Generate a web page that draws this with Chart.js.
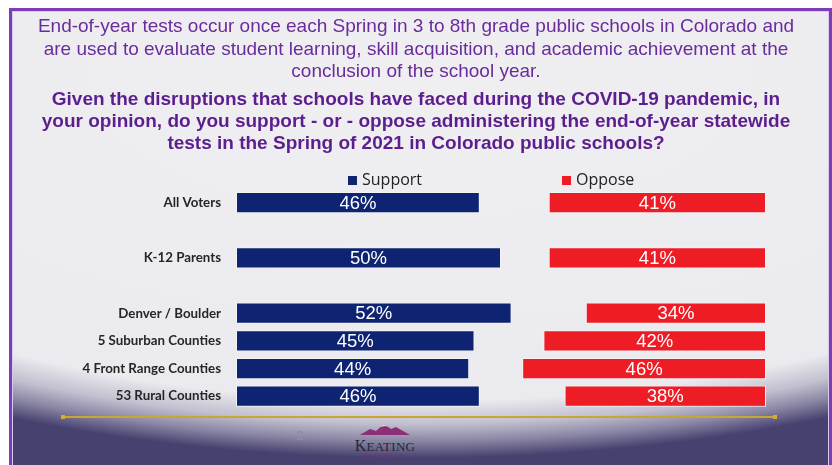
<!DOCTYPE html>
<html>
<head>
<meta charset="utf-8">
<script src="https://cdn.jsdelivr.net/npm/chart.js@4.4.1/dist/chart.umd.min.js"></script>
<style>
  html, body { margin: 0; padding: 0; background: #ffffff; }
  body { width: 832px; height: 465px; position: relative; overflow: hidden; }
  #slide {
    position: absolute; left: 9px; top: 8px; width: 817px; height: 470px;
    border: 3px solid #7d3cb8; border-bottom: none;
    box-shadow: inset 0 0 0 1px #d9c9ea;
    background:
      radial-gradient(ellipse 910px 380px at 407px 67px,
        #efeff2 0%, #ebebef 85%, #c2bfcf 91%, #8a86a4 95.5%, #46416f 100%);
  }
  #chart { position: absolute; left: 0; top: 0; }
  .gold { position: absolute; left: 62px; top: 416px; width: 714px; height: 2px; background: #c8a630; }
  .gold::before, .gold::after { content: ''; position: absolute; top: -1px; width: 4px; height: 4px; background: #d4ae2a; }
  .gold::before { left: -1px; }
  .gold::after { right: -1px; }
  .pageno { position: absolute; left: 296px; top: 428px; font: 13px 'Liberation Sans', sans-serif; color: #8f8ca3; }
  .logo { position: absolute; left: 352px; top: 421px; width: 66px; text-align: center; }
  .logo .name { font: 13px 'Liberation Serif', serif; color: #2a2630; letter-spacing: 0.3px; line-height: 13px; }
  .logo .name span { font-size: 16px; }
  .logo .sub { font: 4px 'Liberation Sans', sans-serif; color: #7b2a6e; letter-spacing: 2.5px; line-height: 5px; }
</style>
</head>
<body>
<div id="slide"></div>
<div class="gold"></div>
<div class="pageno">2</div>
<div class="logo">
  <svg width="50" height="11" viewBox="0 0 50 11"><polygon points="0,11 10,5 16,7 24,0 31,5 36,3 50,11" fill="#8c2f78"/><polygon points="20,3 24,0 28,3 25,2" fill="#e8d8ee"/></svg>
  <div class="name"><span>K</span>EATING</div>
  <div class="sub">RESEARCH</div>
</div>
<canvas id="chart" width="832" height="465"></canvas>
<script>
// slide text
const introLines = [
  'End-of-year tests occur once each Spring in 3 to 8th grade public schools in Colorado and',
  'are used to evaluate student learning, skill acquisition, and academic achievement at the',
  'conclusion of the school year.'
];
const questionLines = [
  'Given the disruptions that schools have faced during the COVID-19 pandemic, in',
  'your opinion, do you support - or - oppose administering the end-of-year statewide',
  'tests in the Spring of 2021 in Colorado public schools?'
];

// data (blank rows are spacers between groups)
const categories = ['All Voters', '', 'K-12 Parents', '', 'Denver / Boulder', '5 Suburban Counties', '4 Front Range Counties', '53 Rural Counties'];
const support = [46, null, 50, null, 52, 45, 44, 46];
const oppose = [41, null, 41, null, 34, 42, 46, 38];
const seriesNames = ['Support', 'Oppose'];
const scaleMax = 100;

const navy = '#0e2472';
const red = '#ee1c25';

// oppose bars are anchored at the right end of the scale
const opposeBars = oppose.map(v => v == null ? null : [scaleMax - v, scaleMax]);

const barLabels = {
  id: 'barLabels',
  afterDatasetsDraw(chart) {
    const ctx = chart.ctx;
    ctx.save();
    ctx.font = '18.5px "Liberation Sans", Arial, sans-serif';
    ctx.fillStyle = '#ffffff';
    ctx.textAlign = 'center';
    ctx.textBaseline = 'middle';
    chart.data.datasets.forEach((ds, di) => {
      chart.getDatasetMeta(di).data.forEach((bar, i) => {
        const raw = ds.data[i];
        if (raw == null) return;
        const v = Array.isArray(raw) ? raw[1] - raw[0] : raw;
        ctx.fillText(v + '%', (bar.x + bar.base) / 2, bar.y + 1);
      });
    });
    ctx.restore();
  }
};

const splitLegend = {
  id: 'splitLegend',
  afterDraw(chart, args, opts) {
    const ctx = chart.ctx;
    ctx.save();
    ctx.font = '16px "Open Sans", sans-serif';
    ctx.textBaseline = 'middle';
    ctx.textAlign = 'left';
    chart.data.datasets.forEach((ds, di) => {
      const x = opts.x[di];
      ctx.fillStyle = ds.backgroundColor;
      ctx.fillRect(x, opts.y - 4.5, 9, 9);
      ctx.fillStyle = '#222222';
      ctx.fillText(ds.label, x + 14, opts.y);
    });
    ctx.restore();
  }
};

new Chart(document.getElementById('chart'), {
  type: 'bar',
  data: {
    labels: categories,
    datasets: [{
      label: seriesNames[0],
      data: support,
      backgroundColor: navy,
      grouped: false
    }, {
      label: seriesNames[1],
      data: opposeBars,
      backgroundColor: red,
      grouped: false
    }]
  },
  options: {
    indexAxis: 'y',
    responsive: false,
    animation: false,
    devicePixelRatio: 1,
    layout: { padding: { top: 0, left: 0, right: 0, bottom: 55 } },
    datasets: {
      bar: {
        barPercentage: 0.77,
        categoryPercentage: 1,
        borderColor: '#f3f3f6',
        borderWidth: 1,
        borderSkipped: false
      }
    },
    scales: {
      x: { display: false, min: 0, max: scaleMax },
      y: {
        grid: { display: false, drawTicks: false },
        border: { display: false },
        ticks: {
          padding: 15,
          color: '#262626',
          font: { family: 'Lato', size: 13.3, weight: 'bold' }
        },
        afterFit(scale) { scale.width = 236; }
      },
      yRight: {
        type: 'category',
        position: 'right',
        grid: { display: false, drawTicks: false },
        border: { display: false },
        ticks: { display: false },
        afterFit(scale) { scale.width = 66; }
      }
    },
    plugins: {
      legend: { display: false },
      tooltip: { enabled: false },
      title: {
        display: true,
        text: introLines,
        color: '#6a2c9c',
        font: { family: 'Liberation Sans', size: 19, weight: 'normal', lineHeight: 22.6 / 19 },
        padding: { top: 15.5, bottom: 3 }
      },
      subtitle: {
        display: true,
        text: questionLines,
        color: '#5c1d8e',
        font: { family: 'Liberation Sans', size: 19, weight: 'bold', lineHeight: 22 / 19 },
        padding: { top: 2.5, bottom: 34 }
      },
      splitLegend: { x: [348, 562], y: 180.5 }
    }
  },
  plugins: [barLabels, splitLegend]
});
</script>
</body>
</html>
